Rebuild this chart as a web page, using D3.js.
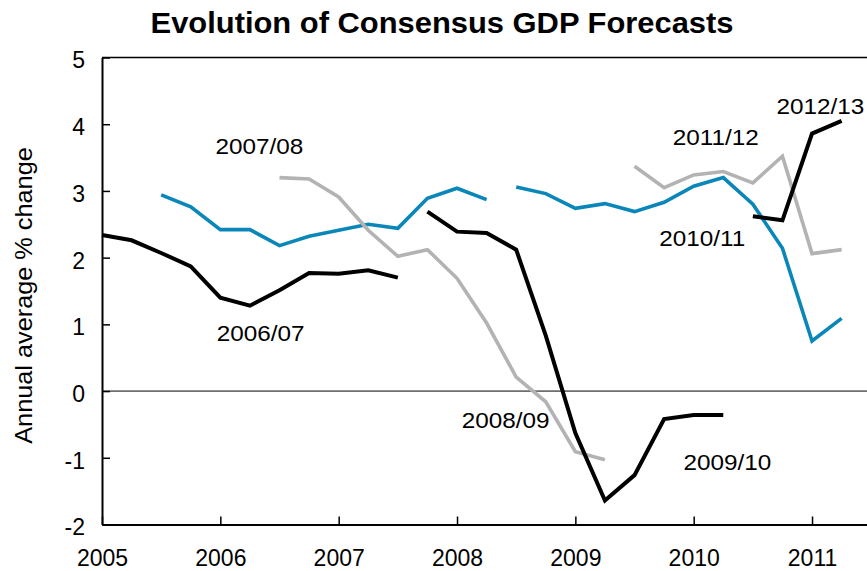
<!DOCTYPE html>
<html>
<head>
<meta charset="utf-8">
<script src="https://cdn.jsdelivr.net/npm/d3@7"></script>
<style>
  html, body { margin: 0; padding: 0; background: #fff; }
  svg { display: block; font-family: "Liberation Sans", Arial, Helvetica, sans-serif; }
</style>
</head>
<body>
<svg id="chart" width="867" height="571"></svg>
<script>
// ---- data (quarterly forecasts, annual average % change) ----
const yearTicks = [2005, 2006, 2007, 2008, 2009, 2010, 2011];
const valueTicks = [-2, -1, 0, 1, 2, 3, 4, 5];

const seriesNames = ["2006/07", "2007/08", "2008/09", "2009/10", "2010/11", "2011/12", "2012/13"];
const seriesStart = [2005.0, 2005.5, 2006.5, 2007.75, 2008.5, 2009.5, 2010.5];
const seriesColor = ["black", "blue", "gray", "black", "blue", "gray", "black"];

const f0607 = [2.34, 2.26, 2.07, 1.87, 1.40, 1.28, 1.51, 1.77, 1.76, 1.81, 1.70];
const f0708 = [2.94, 2.76, 2.42, 2.42, 2.18, 2.32, 2.41, 2.50, 2.44, 2.89, 3.04, 2.87];
const f0809 = [3.20, 3.18, 2.91, 2.41, 2.02, 2.12, 1.69, 1.02, 0.21, -0.16, -0.91, -1.03];
const f0910 = [2.69, 2.39, 2.37, 2.12, 0.83, -0.63, -1.64, -1.26, -0.42, -0.36, -0.36];
const f1011 = [3.06, 2.96, 2.74, 2.81, 2.69, 2.83, 3.07, 3.20, 2.80, 2.14, 0.75, 1.09];
const f1112 = [3.37, 3.05, 3.24, 3.29, 3.12, 3.52, 2.06, 2.12];
const f1213 = [2.62, 2.56, 3.86, 4.05];
const seriesValues = [f0607, f0708, f0809, f0910, f1011, f1112, f1213];

// label anchor points (year, value) for the series names
const labelYear = [2006.34, 2006.33, 2008.41, 2010.285, 2010.073, 2010.186, 2011.07];
const labelValue = [0.75, 3.56, -0.56, -1.18, 2.18, 3.69, 4.16];

// ---- drawing ----
const palette = { black: "#000000", blue: "#0a87b8", gray: "#b3b3b3" };
const svg = d3.select("#chart");

const x = d3.scaleLinear().domain([2005, 2011.5]).range([102, 871.2]);
const y = d3.scaleLinear().domain([-2, 5]).range([524.5, 57.5]);

// title
svg.append("text")
  .attr("transform", "translate(442,33) scale(1.03,1)")
  .attr("text-anchor", "middle")
  .attr("font-size", 30)
  .attr("font-weight", "bold")
  .text("Evolution of Consensus GDP Forecasts");

// y axis title
svg.append("text")
  .attr("transform", "translate(32,295.5) rotate(-90) scale(1.1,1)")
  .attr("text-anchor", "middle")
  .attr("font-size", 23)
  .text("Annual average % change");

// frame: top border
svg.append("line")
  .attr("x1", x(2005)).attr("x2", x(2011.5))
  .attr("y1", y(5)).attr("y2", y(5))
  .attr("stroke", "#000").attr("stroke-width", 1.5);

// zero line
svg.append("line")
  .attr("x1", x(2005)).attr("x2", x(2011.5))
  .attr("y1", y(0)).attr("y2", y(0))
  .attr("stroke", "#000").attr("stroke-width", 1);

const plainFormat = d => String(d);

// y axis
const yAxis = svg.append("g")
  .attr("transform", `translate(${x(2005)},0)`)
  .call(d3.axisLeft(y).tickValues(valueTicks).tickFormat(plainFormat)
        .tickSizeInner(-8).tickSizeOuter(0).tickPadding(17));
yAxis.select(".domain").attr("stroke", "#000").attr("stroke-width", 2);
yAxis.selectAll(".tick line").attr("stroke", "#000").attr("stroke-width", 1.5);
yAxis.selectAll(".tick text")
  .attr("font-size", 23).attr("font-family", "Liberation Sans, Arial, sans-serif")
  .attr("fill", "#000").attr("dy", "0.45em");

// x axis
const xAxis = svg.append("g")
  .attr("transform", `translate(0,${y(-2)})`)
  .call(d3.axisBottom(x).tickValues(yearTicks).tickFormat(plainFormat)
        .tickSizeInner(-8).tickSizeOuter(0).tickPadding(25));
xAxis.select(".domain").attr("stroke", "#000").attr("stroke-width", 2);
xAxis.selectAll(".tick line").attr("stroke", "#000").attr("stroke-width", 1.5);
xAxis.selectAll(".tick text")
  .attr("font-size", 23).attr("font-family", "Liberation Sans, Arial, sans-serif")
  .attr("fill", "#000");

// series lines
const line = d3.line()
  .x(d => x(d.t))
  .y(d => y(d.v))
  .curve(d3.curveLinear);

const seriesData = seriesNames.map((name, i) => ({
  name,
  color: palette[seriesColor[i]],
  points: seriesValues[i].map((v, j) => ({ t: seriesStart[i] + j * 0.25, v }))
}));

svg.append("g").selectAll("path")
  .data(seriesData)
  .join("path")
  .attr("d", d => line(d.points))
  .attr("fill", "none")
  .attr("stroke", d => d.color)
  .attr("stroke-width", d => d.color === palette.black ? 4 : 3.6)
  .attr("stroke-linejoin", "miter")
  .attr("stroke-linecap", "butt");

// series labels
svg.append("g").selectAll("text")
  .data(seriesNames)
  .join("text")
  .attr("transform", (d, i) => `translate(${x(labelYear[i])},${y(labelValue[i])}) scale(1.08,1)`)
  .attr("text-anchor", "middle")
  .attr("font-size", 22.5)
  .attr("fill", "#000")
  .text(d => d);
</script>
</body>
</html>
